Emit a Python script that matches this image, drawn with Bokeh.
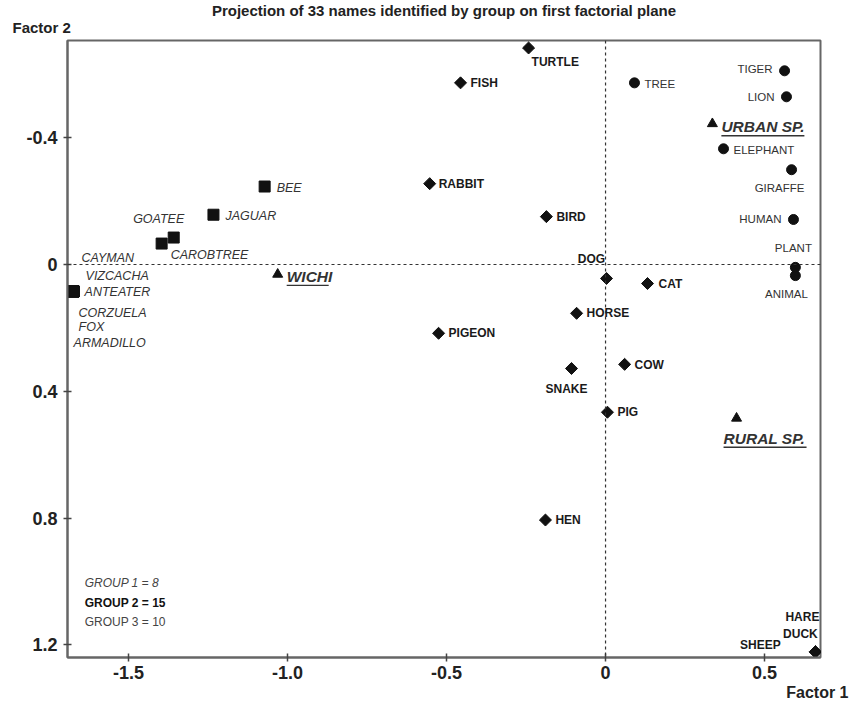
import numpy as np
from bokeh.plotting import figure
from bokeh.models import (ColumnDataSource, Range1d, Span, Label, FixedTicker, Title)
from bokeh.core.properties import value
from bokeh.embed import file_html
from bokeh.resources import INLINE

# ---------------- data ----------------
g1_names = ["BEE", "JAGUAR", "GOATEE", "CAROBTREE", "CAYMAN", "VIZCACHA",
            "ANTEATER", "CORZUELA", "FOX", "ARMADILLO"]
g1_x = [-1.072, -1.233, -1.358, -1.396, -1.673, -1.673, -1.673, -1.673, -1.673, -1.673]
g1_y = [-0.246, -0.157, -0.085, -0.066, 0.085, 0.085, 0.085, 0.085, 0.085, 0.085]

g2_names = ["TURTLE", "FISH", "RABBIT", "BIRD", "DOG", "CAT", "HORSE", "PIGEON",
            "SNAKE", "COW", "PIG", "HEN", "HARE", "DUCK", "SHEEP"]
g2_x = [-0.242, -0.456, -0.553, -0.186, 0.003, 0.132, -0.091, -0.525,
        -0.107, 0.060, 0.006, -0.189, 0.660, 0.660, 0.660]
g2_y = [-0.683, -0.573, -0.255, -0.151, 0.044, 0.060, 0.154, 0.217,
        0.328, 0.315, 0.466, 0.806, 1.222, 1.222, 1.222]

g3_names = ["TREE", "TIGER", "LION", "ELEPHANT", "GIRAFFE", "HUMAN", "PLANT", "ANIMAL"]
g3_x = [0.091, 0.563, 0.569, 0.371, 0.585, 0.591, 0.597, 0.597]
g3_y = [-0.573, -0.611, -0.529, -0.365, -0.299, -0.142, 0.009, 0.035]

sup_names = ["URBAN SP.", "WICHI", "RURAL SP."]
sup_x = [0.336, -1.031, 0.412]
sup_y = [-0.444, 0.031, 0.485]

x_ticks = [-1.5, -1.0, -0.5, 0.0, 0.5]
x_tick_labels = ["-1.5", "-1.0", "-0.5", "0", "0.5"]
y_ticks = [-0.4, 0.0, 0.4, 0.8, 1.2]
y_tick_labels = ["-0.4", "0", "0.4", "0.8", "1.2"]

group_counts = ["GROUP 1 = 8", "GROUP 2 = 15", "GROUP 3 = 10"]
title_text = "Projection of 33 names identified by group on first factorial plane"
x_name = "Factor 1"
y_name = "Factor 2"

# ---------------- label placement (style, screen px) ----------------
g1_dx = [12, 12, -15, 9, 8, 12, 11, 5, 5, 0]
g1_dy = [1, 1, -19, 11, -33, -15, 1, 22, 36, 52]
g1_al = ["left", "left", "center", "left", "left", "left", "left", "left", "left", "left"]

g2_dx = [3, 10, 9, 10, -15, 11, 10, 10, -5, 10, 10, 10, -13, -15, -55]
g2_dy = [14, 0, 0, 0, -19, 0, 0, 0, 21, 1, 0, 0, -35, -18, -7]
g2_al = ["left", "left", "left", "left", "center", "left", "left", "left",
         "center", "left", "left", "left", "center", "center", "center"]

g3_dx = [10, -12, -12, 10, -12, -12, -2, -9]
g3_dy = [1, -2, 0, 1, 18, 0, -19, 18]
g3_al = ["left", "right", "right", "left", "center", "right", "center", "center"]

sup_dx = [9, 9, -13]
sup_dy = [3, 2, 20]
sup_w = [83, 42, 83]

X0, X1 = -1.692, 0.676
Y0, Y1 = 1.2397, -0.7066
FW, FH = 753, 617

p = figure(width=851, height=701, output_backend="svg", toolbar_location=None,
           x_range=Range1d(X0, X1), y_range=Range1d(Y0, Y1),
           frame_width=FW, frame_height=FH,
           min_border_left=67, min_border_right=31, min_border_top=40, min_border_bottom=44)
p.grid.visible = False
p.background_fill_color = "white"
p.border_fill_color = "white"
p.outline_line_color = "#666666"
p.outline_line_width = 2

for ax in (p.xaxis[0], p.yaxis[0]):
    ax.axis_line_color = "#666666"
    ax.axis_line_width = 2
    ax.major_tick_in = 4
    ax.major_tick_out = 4
    ax.major_tick_line_color = "#444444"
    ax.major_tick_line_width = 1.5
    ax.minor_tick_line_color = None
    ax.major_label_text_font = "Liberation Sans"
    ax.major_label_text_font_style = "bold"
    ax.major_label_text_font_size = "18px"
    ax.major_label_text_color = "#222222"
p.xaxis[0].major_label_standoff = 4
p.yaxis[0].major_label_standoff = 6

p.xaxis[0].ticker = FixedTicker(ticks=x_ticks)
p.xaxis[0].major_label_overrides = {t: l for t, l in zip(x_ticks, x_tick_labels)}
p.yaxis[0].ticker = FixedTicker(ticks=y_ticks)
p.yaxis[0].major_label_overrides = {t: l for t, l in zip(y_ticks, y_tick_labels)}

p.add_layout(Span(location=0, dimension="height", line_color="#333333",
                  line_width=1.2, line_dash="3 3"))
p.add_layout(Span(location=0, dimension="width", line_color="#333333",
                  line_width=1.2, line_dash="3 3"))

FONT = value("Liberation Sans")

s1 = ColumnDataSource(dict(x=g1_x, y=g1_y, t=g1_names, dx=g1_dx, dy=g1_dy, al=g1_al))
s2 = ColumnDataSource(dict(x=g2_x, y=g2_y, t=g2_names, dx=g2_dx, dy=g2_dy, al=g2_al))
s3 = ColumnDataSource(dict(x=g3_x, y=g3_y, t=g3_names, dx=g3_dx, dy=g3_dy, al=g3_al))
s4 = ColumnDataSource(dict(x=sup_x, y=sup_y, t=sup_names, dx=sup_dx, dy=sup_dy))

p.scatter("x", "y", source=s1, marker="square", size=11, color="#111111")
p.scatter("x", "y", source=s2, marker="square", angle=np.pi / 4, size=8.5, color="#111111")
p.scatter("x", "y", source=s3, marker="circle", size=10, color="#111111")
p.scatter("x", "y", source=s4, marker="triangle", size=10, color="#111111")

p.text("x", "y", text="t", source=s1, x_offset="dx", y_offset="dy", text_align="al",
       text_baseline="middle", text_font=FONT, text_font_style="italic",
       text_font_size="12.5px", text_color="#333333")
p.text("x", "y", text="t", source=s2, x_offset="dx", y_offset="dy", text_align="al",
       text_baseline="middle", text_font=FONT, text_font_style="bold",
       text_font_size="12px", text_color="#1a1a1a")
p.text("x", "y", text="t", source=s3, x_offset="dx", y_offset="dy", text_align="al",
       text_baseline="middle", text_font=FONT, text_font_style="normal",
       text_font_size="11.5px", text_color="#333333")
p.text("x", "y", text="t", source=s4, x_offset="dx", y_offset="dy", text_align="left",
       text_baseline="middle", text_font=FONT, text_font_style="bold italic",
       text_font_size="15.5px", text_color="#333333")

# underline for supplementary labels
ppx = FW / (X1 - X0)
ppy = FH / (Y0 - Y1)
ux0 = [x + dx / ppx for x, dx in zip(sup_x, sup_dx)]
ux1 = [x + (dx + w) / ppx for x, dx, w in zip(sup_x, sup_dx, sup_w)]
uy = [y + (dy + 9) / ppy for y, dy in zip(sup_y, sup_dy)]
p.segment(x0=ux0, y0=uy, x1=ux1, y1=uy, line_color="#333333", line_width=1.3)

# group counts
styles = ["italic", "bold", "normal"]
colors = ["#444444", "#111111", "#444444"]
gy = [1.005, 1.068, 1.128]
for txt, st, c, yy in zip(group_counts, styles, colors, gy):
    p.add_layout(Label(x=-1.638, y=yy, text=txt, text_font="Liberation Sans",
                       text_font_style=st, text_font_size="12px", text_color=c,
                       text_baseline="middle"))

# title and axis names as side-panel titles
t_y = Title(text=y_name, align="left", offset=-55, text_font="Liberation Sans",
            text_font_style="bold", text_font_size="15px", text_color="#222222")
t_main = Title(text=title_text, align="center", offset=13, text_font="Liberation Sans",
               text_font_style="bold", text_font_size="15px", text_color="#222222")
t_x = Title(text=x_name, align="right", offset=-28, text_font="Liberation Sans",
            text_font_style="bold", text_font_size="16px", text_color="#222222")
for t, so in ((t_y, 9), (t_main, -12), (t_x, 0)):
    try:
        t.standoff = so
    except Exception:
        pass
p.add_layout(t_y, "above")
p.add_layout(t_main, "above")
p.add_layout(t_x, "below")

open("out.html", "w").write(file_html(p, INLINE))
